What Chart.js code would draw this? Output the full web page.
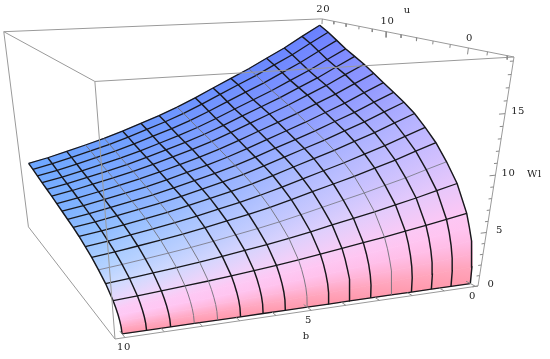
<!DOCTYPE html>
<html>
<head>
<meta charset="utf-8">
<style>html,body{margin:0;padding:0;background:#fff}canvas{display:block}</style>
<script src="https://cdn.jsdelivr.net/npm/chart.js@4"></script>
</head>
<body>
<canvas id="surface" width="550" height="359"></canvas>
<script>
// values
const bValues = [0,0.625,1.25,1.875,2.5,3.125,3.75,4.375,5,5.625,6.25,6.875,7.5,8.125,8.75,9.375,10];
const uValues = [-4,-3.9,-3.7,-3.4,-3,-2.5,-1,0.5,2,3.5,5,6.5,8,9.5,11,12.5,14,15.5,17,18.5,20];
const wTable = [
  [0,0,0,0,0,0,0,0,0,0,0,0,0,0,0,0,0],
  [1.55,1.46,1.38,1.30,1.22,1.15,1.08,1.00,.94,.88,.82,.77,.72,.67,.63,.59,.56],
  [2.70,2.55,2.40,2.26,2.12,2.00,1.88,1.75,1.63,1.53,1.43,1.34,1.25,1.17,1.10,1.03,.97],
  [3.80,3.59,3.37,3.18,2.99,2.82,2.64,2.46,2.30,2.15,2.01,1.88,1.76,1.65,1.55,1.45,1.37],
  [4.90,4.63,4.35,4.11,3.86,3.63,3.41,3.18,2.96,2.77,2.60,2.43,2.27,2.13,2.00,1.87,1.76],
  [6.00,5.67,5.33,5.03,4.72,4.45,4.17,3.89,3.62,3.39,3.18,2.97,2.78,2.61,2.45,2.29,2.16],
  [8.20,7.75,7.28,6.87,6.45,6.08,5.70,5.31,4.95,4.63,4.35,4.06,3.80,3.57,3.35,3.13,2.95],
  [9.70,9.17,8.61,8.13,7.63,7.19,6.74,6.29,5.86,5.48,5.14,4.80,4.49,4.22,3.96,3.71,3.49],
  [11.00,10.40,9.77,9.22,8.66,8.15,7.65,7.13,6.64,6.22,5.83,5.45,5.09,4.79,4.49,4.20,3.96],
  [12.00,11.34,10.66,10.06,9.44,8.89,8.34,7.78,7.25,6.78,6.36,5.94,5.56,5.22,4.90,4.58,4.32],
  [12.90,12.19,11.46,10.81,10.15,9.56,8.97,8.36,7.79,7.29,6.84,6.39,5.97,5.61,5.26,4.93,4.64],
  [13.60,12.85,12.08,11.40,10.70,10.08,9.45,8.81,8.21,7.68,7.21,6.73,6.30,5.92,5.55,5.20,4.90],
  [14.20,13.42,12.61,11.90,11.18,10.52,9.87,9.20,8.58,8.02,7.53,7.03,6.57,6.18,5.79,5.42,5.11],
  [14.80,13.99,13.14,12.40,11.65,10.97,10.29,9.59,8.94,8.36,7.84,7.33,6.85,6.44,6.04,5.65,5.33],
  [15.40,14.55,13.68,12.91,12.12,11.41,10.70,9.98,9.30,8.70,8.16,7.62,7.13,6.70,6.28,5.88,5.54],
  [16.00,15.12,14.21,13.41,12.59,11.86,11.12,10.37,9.66,9.04,8.48,7.92,7.41,6.96,6.53,6.11,5.76],
  [16.50,15.59,14.65,13.83,12.99,12.23,11.47,10.69,9.97,9.32,8.75,8.17,7.64,7.18,6.73,6.30,5.94],
  [17.00,16.07,15.10,14.25,13.38,12.60,11.82,11.02,10.27,9.61,9.01,8.42,7.87,7.40,6.94,6.49,6.12],
  [17.60,16.63,15.63,14.75,13.85,13.04,12.23,11.40,10.63,9.94,9.33,8.71,8.15,7.66,7.18,6.72,6.34],
  [18.20,17.20,16.16,15.25,14.32,13.49,12.65,11.79,10.99,10.28,9.65,9.01,8.43,7.92,7.43,6.95,6.55],
  [18.70,17.67,16.61,15.67,14.72,13.86,13.00,12.12,11.29,10.57,9.91,9.26,8.66,8.13,7.63,7.14,6.73]
];
const meshU = [-4,-2.5,-1,0.5,2,3.5,5,6.5,8,9.5,11,12.5,14,15.5,17,18.5,20];
const fadedU = [0.5];
const fadedB = [2.5,5,7.5,8.125];
const bTicks = [0,1,2,3,4,5,6,7,8,9,10];
const uTicks = [-4,-2,0,2,4,6,8,10,12,14,16,18,20];
const wTicks = [0,1,2,3,4,5,6,7,8,9,10,11,12,13,14,15,16,17,18,19];
const bLabels = [0,5,10];
const uLabels = [0,10,20];
const wLabels = [0,5,10,15];

// lighting colours of the surface, by u, at both b ends
const colorU = [-4,-3.9,-3.7,-3.4,-3,-2.5,-1,0.5,2,5,10,15,20];
const colorB0 = ['#ff99ac','#ffa4bb','#ffb0d0','#ffbce4','#ffc4f0','#fcc6f4','#e8c6fb','#d6c0fd','#c8baff','#b2b0ff','#9298ff','#7e8aff','#6880ff'];
const colorB10 = ['#ff99ac','#ffaac4','#ffbce0','#ffc8f4','#fccbf6','#eed6fb','#ccdcff','#b6d4ff','#a8ceff','#90bfff','#7eb2ff','#76adff','#6ea8ff'];

// box limits and camera (perspective weights of the box corners)
const box = {bMin:-0.08, bMax:10.25, uMin:-4.6, uMax:20.1, wMin:0, wMax:19.3};
const cam = {O:[478,286], X:[115,339], Y:[313,197], Z:[514,57], wx:0.877, wy:1.313, wz:0.872};

function project(b, u, w) {
  const bn = (b - box.bMin) / (box.bMax - box.bMin);
  const un = (u - box.uMin) / (box.uMax - box.uMin);
  const wn = (w - box.wMin) / (box.wMax - box.wMin);
  const o = 1 - bn - un - wn;
  const d = o + bn * cam.wx + un * cam.wy + wn * cam.wz;
  return {
    x: (o * cam.O[0] + bn * cam.wx * cam.X[0] + un * cam.wy * cam.Y[0] + wn * cam.wz * cam.Z[0]) / d,
    y: (o * cam.O[1] + bn * cam.wx * cam.X[1] + un * cam.wy * cam.Y[1] + wn * cam.wz * cam.Z[1]) / d
  };
}

function hex(c) {
  return [parseInt(c.slice(1,3),16), parseInt(c.slice(3,5),16), parseInt(c.slice(5,7),16)];
}
function surfaceColor(b, u) {
  let k = 0;
  while (k < colorU.length - 2 && u > colorU[k+1]) k++;
  const t = (u - colorU[k]) / (colorU[k+1] - colorU[k]);
  const s = b / 10;
  const a = hex(colorB0[k]), a2 = hex(colorB0[k+1]), c = hex(colorB10[k]), c2 = hex(colorB10[k+1]);
  const out = [0,1,2].map(n => {
    const v0 = a[n] + (a2[n] - a[n]) * t;
    const v1 = c[n] + (c2[n] - c[n]) * t;
    return Math.round(v0 + (v1 - v0) * s);
  });
  return 'rgb(' + out.join(',') + ')';
}

const ctx2d = document.getElementById('surface').getContext('2d');

function lineSet(points, color, width) {
  return {data: points, showLine: true, fill: false, borderColor: color, borderWidth: width,
    pointRadius: 0, tension: 0, spanGaps: false};
}
function segments(list) {
  const pts = [];
  list.forEach(s => { pts.push(s[0], s[1], {x: NaN, y: NaN}); });
  return pts;
}

// back to front
const layers = [];

const {bMin, bMax, uMin, uMax, wMin, wMax} = box;
layers.push(lineSet(segments([
  [project(bMax,uMax,wMax), project(bMin,uMax,wMax)],
  [project(bMax,uMax,wMax), project(bMax,uMax,wMin)],
  [project(bMax,uMax,wMax), project(bMax,uMin,wMax)],
  [project(bMin,uMin,wMax), project(bMin,uMax,wMax)],
  [project(bMax,uMax,wMin), project(bMax,uMin,wMin)],
  [project(bMin,uMin,wMin), project(bMax,uMin,wMin)]
]), '#9a9a9a', 1));

for (let i = 0; i < uValues.length - 1; i++) {
  for (let j = 0; j < bValues.length - 1; j++) {
    const quad = [
      project(bValues[j], uValues[i], wTable[i][j]),
      project(bValues[j+1], uValues[i], wTable[i][j+1]),
      project(bValues[j+1], uValues[i+1], wTable[i+1][j+1]),
      project(bValues[j], uValues[i+1], wTable[i+1][j])
    ];
    quad.push(quad[0]);
    const g = ctx2d.createLinearGradient(
      (quad[0].x + quad[1].x) / 2, (quad[0].y + quad[1].y) / 2,
      (quad[2].x + quad[3].x) / 2, (quad[2].y + quad[3].y) / 2);
    const bMid = (bValues[j] + bValues[j+1]) / 2;
    g.addColorStop(0, surfaceColor(bMid, uValues[i]));
    g.addColorStop(1, surfaceColor(bMid, uValues[i+1]));
    layers.push({data: quad, showLine: true, fill: 'shape', backgroundColor: g, borderColor: g,
      borderWidth: 0.7, pointRadius: 0, tension: 0});
  }
}

// mesh lines
uValues.forEach((u, i) => {
  if (!meshU.includes(u)) return;
  const pts = bValues.map((b, j) => project(b, u, wTable[i][j]));
  const faded = fadedU.includes(u);
  layers.push(lineSet(pts, faded ? '#7d7d8c' : '#18181c', faded ? 0.9 : 1.3));
});
bValues.forEach((b, j) => {
  const pts = uValues.map((u, i) => project(b, u, wTable[i][j]));
  const faded = fadedB.includes(b);
  layers.push(lineSet(pts, faded ? '#6f6f78' : '#18181c', faded ? 0.9 : 1.45));
});

// front box edges and ticks sit above the surface
layers.push(lineSet(segments([
  [project(bMin,uMin,wMin), project(bMin,uMin,wMax)],
  [project(bMax,uMin,wMin), project(bMax,uMin,wMax)],
  [project(bMin,uMin,wMax), project(bMax,uMin,wMax)]
]), '#9a9a9a', 1));

const tickLines = [];
bTicks.forEach(b => {
  const len = bLabels.includes(b) ? 1.1 : 0.6;
  tickLines.push([project(b,uMin,wMin), project(b,uMin+len,wMin)]);
});
uTicks.forEach(u => {
  const len = uLabels.includes(u) ? 0.5 : 0.28;
  tickLines.push([project(bMin,u,wMax), project(bMin,u,wMax-len)]);
});
wTicks.forEach(w => {
  const len = wLabels.includes(w) ? 0.18 : 0.1;
  tickLines.push([project(bMin,uMin,w), project(bMin+len,uMin,w)]);
});
layers.push(lineSet(segments(tickLines), '#8a8a8a', 1));

const bLabelShift = {0: -3, 5: -3, 10: -1};

const textLabels = {
  id: 'textLabels',
  afterDraw(chart) {
    const {ctx, scales} = chart;
    const put = (text, p, dx, dy) => {
      ctx.fillText(text, scales.x.getPixelForValue(p.x) + dx, scales.y.getPixelForValue(p.y) + dy);
    };
    ctx.save();
    ctx.font = '10px "DejaVu Serif"';
    ctx.letterSpacing = '0.6px';
    ctx.fillStyle = '#222';
    ctx.textAlign = 'center';
    ctx.textBaseline = 'middle';
    bLabels.forEach(b => put(String(b), project(b,uMin,wMin), bLabelShift[b], 10));
    uLabels.forEach(u => put(String(u), project(bMin,u,wMax), 1, -10));
    wLabels.forEach(w => put(String(w), project(bMin,uMin,w), 13, -2));
    put('b', project(5,uMin,wMin), -5, 26);
    put('u', project(bMin,7.6,wMax), 3, -25);
    put('Wl', project(bMin,uMin,10), 39, -1);
    ctx.restore();
  }
};

new Chart(document.getElementById('surface'), {
  type: 'scatter',
  data: {datasets: layers.reverse()},
  options: {
    responsive: false,
    animation: false,
    layout: {padding: 0},
    plugins: {legend: {display: false}, tooltip: {enabled: false}},
    scales: {
      x: {type: 'linear', min: 0, max: 550, display: false},
      y: {type: 'linear', min: 0, max: 359, reverse: true, display: false}
    }
  },
  plugins: [textLabels]
});
</script>
</body>
</html>
